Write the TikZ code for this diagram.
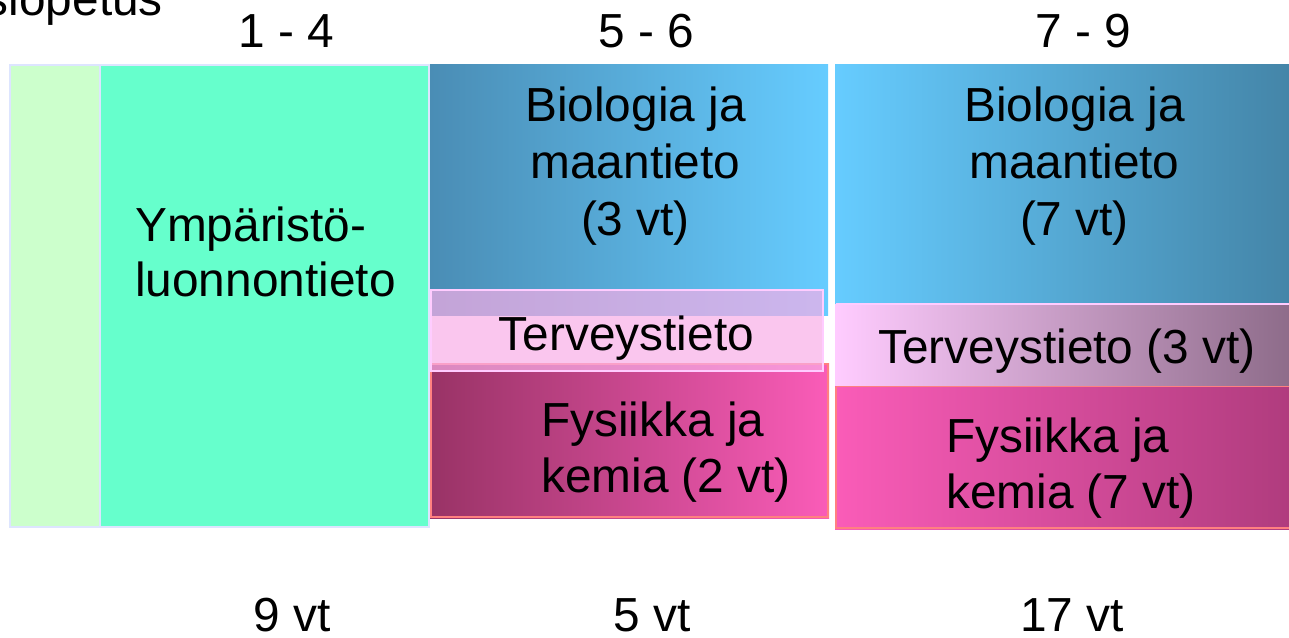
\documentclass[tikz,border=0pt]{standalone}
\usepackage{fontspec}
\setmainfont{Liberation Sans}
\begin{document}
\begin{tikzpicture}[x=1pt,y=-1pt,
  lbl/.style={anchor=base,inner sep=0pt,font=\fontsize{47.8}{56}\selectfont},
  lbll/.style={lbl,anchor=base west},
  lblr/.style={lbl,anchor=base east}]
\definecolor{esi}{HTML}{CCFFCC}
\definecolor{ymp}{HTML}{66FFCC}
\definecolor{frame}{HTML}{DDE5FF}
\definecolor{bluedark}{HTML}{4A8DB5}
\definecolor{bluelight}{HTML}{66CCFF}
\definecolor{bluedark2}{HTML}{4485A8}
\definecolor{terv}{HTML}{F8AEE7}
\definecolor{tervb}{HTML}{FFCCFF}
\definecolor{fysdark}{HTML}{993366}
\definecolor{fyslight}{HTML}{FA5CB8}
\definecolor{fysdark2}{HTML}{B03C7E}
\definecolor{fysb}{HTML}{FF8080}
\definecolor{tervlight}{HTML}{FFCCFF}
\definecolor{tervdark}{HTML}{8E6C8A}
\useasboundingbox (0,0) rectangle (1289,637);
\clip (0,0) rectangle (1289,637);
% 1-4 column
\fill[esi] (9,64) rectangle (100,528);
\fill[ymp] (100,64) rectangle (429,528);
\draw[frame,line width=2pt] (10,65) rectangle (429,527);
\draw[frame,line width=2pt] (100,65) -- (100,527);
% 5-6 column
\shade[left color=bluedark,right color=bluelight] (430,64) rectangle (828,315);
\shade[left color=fysdark,right color=fyslight] (430,363) rectangle (829,518);
\draw[fysb,line width=2pt] (431,364) rectangle (828,517);
\fill[terv,fill opacity=0.7] (430,289) rectangle (824,372);
\draw[tervb,line width=2pt] (431,290) rectangle (823,371);
% 7-9 column
\shade[left color=bluelight,right color=bluedark2] (835,64) rectangle (1289,304);
\shade[left color=tervlight,right color=tervdark] (835,304) rectangle (1289,386);
\draw[tervb,line width=1.5pt] (836,304) -- (1289,304);
\draw[tervb,line width=1.5pt] (836,304) -- (836,386);
\shade[left color=fyslight,right color=fysdark2] (835,386) rectangle (1289,529);
\draw[fysb,line width=2pt] (836,387) -- (836,528) -- (1289,528);
\draw[fysb,line width=1pt] (836,386.5) -- (1289,386.5);
% headers
\node[lblr] (esiop) at (163,16) {Esiopetus};
\node[lbl] (h14) at (286.5,47) {1 - 4};
\node[lbl] (h56) at (646.5,47) {5 - 6};
\node[lbl] (h79) at (1083.5,47) {7 - 9};
% texts
\node[lbll] (ympa) at (135,241.5) {Ympäristö-};
\node[lbll] (ympb) at (135,296.5) {luonnontieto};
\node[lbl] (bio56a) at (635.5,121.5) {Biologia ja};
\node[lbl] (bio56b) at (635.5,178.5) {maantieto};
\node[lbl] (bio56c) at (635.5,235.5) {(3 vt)};
\node[lbl] (terv56) at (626.5,350) {Terveystieto};
\node[lbll] (fys56a) at (541,436) {Fysiikka ja};
\node[lbll] (fys56b) at (541,492) {kemia (2 vt)};
\node[lbl] (bio79a) at (1074.5,121.5) {Biologia ja};
\node[lbl] (bio79b) at (1074.5,178.5) {maantieto};
\node[lbl] (bio79c) at (1074.5,235.5) {(7 vt)};
\node[lbl] (terv79) at (1067,363) {Terveystieto (3 vt)};
\node[lbll] (fys79a) at (946,452) {Fysiikka ja};
\node[lbll] (fys79b) at (946,508) {kemia (7 vt)};
% bottom totals
\node[lbl] (t14) at (292.5,631) {9 vt};
\node[lbl] (t56) at (652,631) {5 vt};
\node[lbl] (t79) at (1072,631) {17 vt};
\end{tikzpicture}
\end{document}
